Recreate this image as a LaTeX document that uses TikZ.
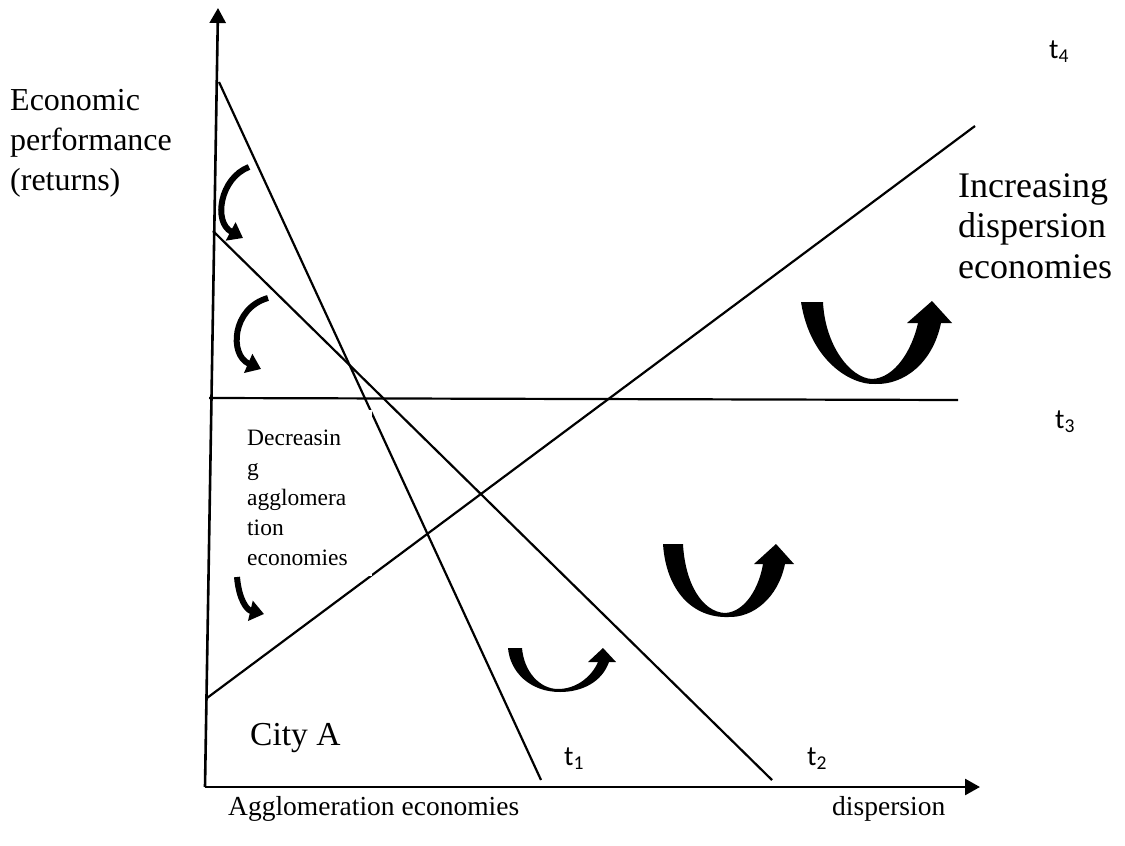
\documentclass[tikz,border=0pt]{standalone}
\usepackage{fontspec}
\setmainfont{Liberation Serif}
\newfontfamily\calib{Carlito}
\usetikzlibrary{arrows.meta}
\begin{document}
\begin{tikzpicture}[x=1pt,y=-1pt,
  ln/.style={line width=2.2pt},
  ax/.style={line width=2.6pt,-{Triangle[width=16pt,length=15pt]}},
  lbl/.style={anchor=base west, inner sep=0pt, align=left},
  tl/.style={anchor=base west, inner sep=0pt, font=\calib\fontsize{28}{30}\selectfont},
  carrow/.style={line width=6pt, -{Triangle[width=20pt,length=14pt]}},
  uarrow/.style={fill=black, draw=none}]
\useasboundingbox (0,0) rectangle (1125,846);
% axes
\coordinate (O) at (205,787);
\coordinate (Ytop) at (218,8);
\coordinate (Xend) at (980,787);
\draw[ax] (O) -- (Ytop);
\draw[ax] (O) -- (Xend);
% lines
\coordinate (t1a) at (219,82);   \coordinate (t1b) at (541,780);
\coordinate (t2a) at (213,231);  \coordinate (t2b) at (772,780);
\coordinate (t3a) at (209,398);  \coordinate (t3b) at (958,400);
\coordinate (ida) at (207,698);  \coordinate (idb) at (975,126);
\draw[ln] (t1a) -- (t1b);
\draw[ln] (t2a) -- (t2b);
\draw[ln] (t3a) -- (t3b);
\draw[ln] (ida) -- (idb);
% text box background (gaps in lines)
\fill[white] (240,410) rectangle (372,576);
\node[lbl, font=\fontsize{23.5}{30}\selectfont] (dec) at (247,565)
  {Decreasin\\g\\agglomera\\tion\\economies};
% labels
\node[lbl, font=\fontsize{32}{40}\selectfont] (ep) at (10,190)
  {Economic\\performance\\(returns)};
\node[lbl, font=\fontsize{36}{40.5}\selectfont] (ide) at (958,278)
  {Increasing\\dispersion\\economies};
\node[lbl, font=\fontsize{33.5}{40}\selectfont] (city) at (250,745) {City A};
\node[lbl, font=\fontsize{27.5}{34}\selectfont] (agg) at (228,815) {Agglomeration economies};
\node[lbl, font=\fontsize{27.5}{34}\selectfont] (disp) at (832,815) {dispersion};
\node[tl] (t4) at (1049,58) {t\textsubscript{4}};
\node[tl] (t3) at (1055,428) {t\textsubscript{3}};
\node[tl] (t1) at (564,765) {t\textsubscript{1}};
\node[tl] (t2) at (807,765) {t\textsubscript{2}};
% curved arrows (left)
\draw[carrow] (249,167) .. controls (220,178) and (213,222) .. (243,238);
\draw[carrow] (268,298) .. controls (232,308) and (229,355) .. (261,369);
\draw[carrow] (237,577) .. controls (239,600) and (247,610) .. (264,614);
% U arrows
\fill[uarrow] (508,648) -- (522,648) .. controls (524,672) and (540,689) .. (558,689)
  .. controls (577,689) and (592,676) .. (598,662) -- (588,662) -- (603,648) -- (616,662) -- (609,662)
  .. controls (602,682) and (582,692) .. (560,692) .. controls (530,692) and (510,672) .. (508,648) -- cycle;
\fill[uarrow] (663,544) -- (683,544) .. controls (685,583) and (702,612) .. (725,613)
  .. controls (745,612) and (759,588) .. (763,564) -- (754,564) -- (776,544) -- (794,564) -- (785,564)
  .. controls (778,598) and (753,618) .. (728,617) .. controls (692,618) and (666,590) .. (663,544) -- cycle;
\fill[uarrow] (801,302) -- (823,302) .. controls (825,345) and (850,378) .. (872,379)
  .. controls (895,378) and (912,350) .. (918,323) -- (907,323) -- (932,301) -- (952,323) -- (941,323)
  .. controls (933,362) and (905,385) .. (875,384) .. controls (850,385) and (810,360) .. (801,302) -- cycle;
\end{tikzpicture}
\end{document}
